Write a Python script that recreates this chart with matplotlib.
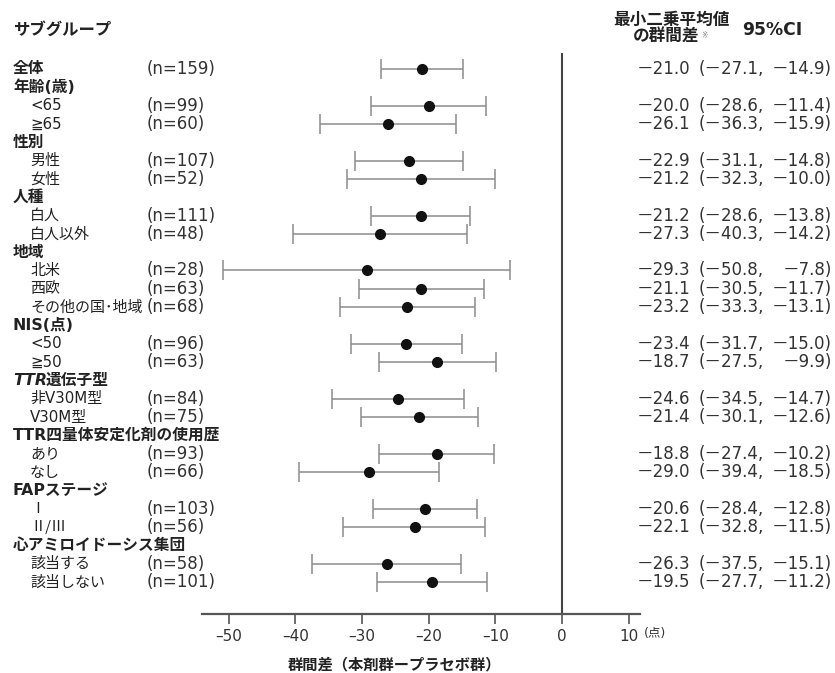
import numpy as np
import matplotlib.pyplot as plt
from matplotlib.transforms import blended_transform_factory

plt.rcParams['font.family'] = ['DejaVu Sans', 'Noto Sans CJK JP']

# subgroup rows, top to bottom (header rows carry no estimate)
labels = ['全体', '年齢(歳)', '<65', '≧65', '性別', '男性', '女性',
          '人種', '白人', '白人以外', '地域', '北米', '西欧', 'その他の国･地域',
          'NIS(点)', '<50', '≧50', 'TTR遺伝子型', '非V30M型', 'V30M型',
          'TTR四量体安定化剤の使用歴', 'あり', 'なし', 'FAPステージ', 'Ⅰ', 'Ⅱ/Ⅲ',
          '心アミロイドーシス集団', '該当する', '該当しない']
is_header = [True, True, False, False, True, False, False,
             True, False, False, True, False, False, False,
             True, False, False, True, False, False,
             True, False, False, True, False, False,
             True, False, False]
n_vals = [159, None, 99, 60, None, 107, 52,
          None, 111, 48, None, 28, 63, 68,
          None, 96, 63, None, 84, 75,
          None, 93, 66, None, 103, 56,
          None, 58, 101]
ls_diff = [-21.0, None, -20.0, -26.1, None, -22.9, -21.2,
           None, -21.2, -27.3, None, -29.3, -21.1, -23.2,
           None, -23.4, -18.7, None, -24.6, -21.4,
           None, -18.8, -29.0, None, -20.6, -22.1,
           None, -26.3, -19.5]
ci_low = [-27.1, None, -28.6, -36.3, None, -31.1, -32.3,
          None, -28.6, -40.3, None, -50.8, -30.5, -33.3,
          None, -31.7, -27.5, None, -34.5, -30.1,
          None, -27.4, -39.4, None, -28.4, -32.8,
          None, -37.5, -27.7]
ci_high = [-14.9, None, -11.4, -15.9, None, -14.8, -10.0,
           None, -13.8, -14.2, None, -7.8, -11.7, -13.1,
           None, -15.0, -9.9, None, -14.7, -12.6,
           None, -10.2, -18.5, None, -12.8, -11.5,
           None, -15.1, -11.2]
xticks = [-50, -40, -30, -20, -10, 0, 10]

W, H = 835, 673
fig = plt.figure(figsize=(W / 100, H / 100), dpi=100)
ax = fig.add_axes([202 / W, 59 / H, 438 / W, 574 / H])

rows = -np.arange(len(labels), dtype=float)
has = np.array([v is not None for v in ls_diff])
est = np.array([v for v in ls_diff if v is not None])
lo = np.array([v for v in ci_low if v is not None])
hi = np.array([v for v in ci_high if v is not None])
ys = rows[has]

ax.errorbar(est, ys, xerr=[est - lo, hi - est], fmt='none', ecolor='#8c8c8c',
            elinewidth=1.1, capsize=7, capthick=1.1, zorder=2)
ax.plot(est, ys, 'o', color='#111111', markersize=7, zorder=3)

y_bottom = -29.75
ax.vlines(0, y_bottom, 0.87, color='#444444', linewidth=1.5, zorder=1)
ax.set_xlim(-54, 11.7)
ax.set_ylim(y_bottom, 1.58)

for s in ['top', 'right', 'left']:
    ax.spines[s].set_visible(False)
ax.spines['bottom'].set_color('#555555')
ax.spines['bottom'].set_linewidth(1.6)
ax.set_yticks([])
ax.set_xticks(xticks)
ax.set_xticklabels([str(t).replace('-', '–') for t in xticks])
ax.tick_params(axis='x', length=7, width=1.2, color='#555555', labelsize=11,
               labelcolor='#333333', pad=4)

# text columns live in figure pixels horizontally, row units vertically
tr = blended_transform_factory(fig.transFigure, ax.transData)
lab_kw = dict(fontsize=10.8, color='#222222', va='center', transform=tr)
num_kw = dict(fontsize=12, color='#333333', va='center', transform=tr)
roman = {'Ⅰ', 'Ⅱ/Ⅲ'}


def fmt(v):
    return f'{v:.1f}'.replace('-', '－')


for i, lab in enumerate(labels):
    y = rows[i]
    if is_header[i]:
        if lab == 'TTR遺伝子型':
            t = ax.text(13 / W, y, 'TTR', fontweight='bold', style='italic',
                        **dict(lab_kw, fontsize=11.3))
            ax.annotate('遺伝子型', xy=(1, 0.5), xycoords=t, va='center',
                        xytext=(-1, 0), textcoords='offset points',
                        fontsize=11.3, color='#222222', fontweight='bold')
        else:
            ax.text(13 / W, y, lab, fontweight='bold', **dict(lab_kw, fontsize=11.3))
    elif lab in roman:
        ax.text(30 / W, y, lab, family=['Noto Sans CJK JP'], **lab_kw)
    else:
        ax.text(30 / W, y, lab, **lab_kw)
    if n_vals[i] is not None:
        ax.text(147 / W, y, f'(n={n_vals[i]})', **num_kw)
    if ls_diff[i] is not None:
        ax.text(690 / W, y, fmt(ls_diff[i]), ha='right', **num_kw)
        ax.text(699 / W, y, f'({fmt(ci_low[i])},', ha='left', **num_kw)
        ax.text(832 / W, y, f'{fmt(ci_high[i])})', ha='right', **num_kw)

# column headings
fig.text(13 / W, 1 - 30 / H, 'サブグループ', fontsize=11.8, fontweight='bold',
         color='#222222', va='center')
fig.text(613 / W, 1 - 20 / H, '最小二乗平均値', fontsize=12, fontweight='bold',
         color='#222222', va='center')
fig.text(633 / W, 1 - 37 / H, 'の群間差', fontsize=12, fontweight='bold',
         color='#222222', va='center')
fig.text(701 / W, 1 - 35 / H, '※', fontsize=5.5, color='#777777', va='center')
fig.text(742 / W, 1 - 30 / H, '95%CI', fontsize=12.3, fontweight='bold',
         color='#222222', va='center')

fig.text(644 / W, 1 - 634 / H, '(点)', fontsize=9, color='#333333', va='center')
fig.text(394 / W, 1 - 665 / H, '群間差（本剤群ープラセボ群）', fontsize=11,
         fontweight='bold', color='#222222', va='center', ha='center')

fig.savefig('out.png', dpi=100)
